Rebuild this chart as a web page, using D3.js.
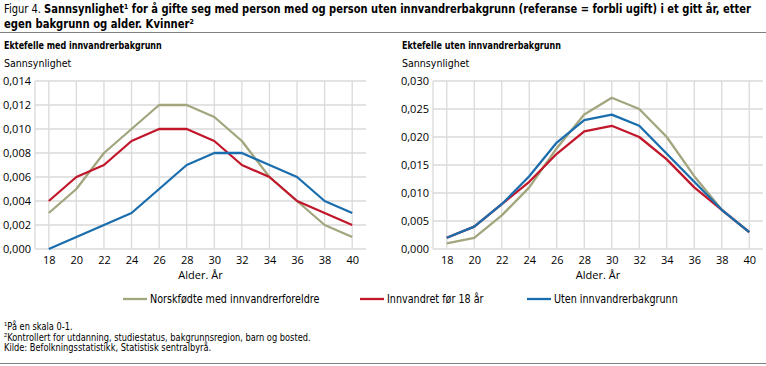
<!DOCTYPE html>
<html>
<head>
<meta charset="utf-8">
<script src="https://cdn.jsdelivr.net/npm/d3@7"></script>
<style>
  body { margin: 0; background: #fff; }
  svg { display: block; }
  .narrow { font-family: "DejaVu Sans Condensed", "DejaVu Sans", sans-serif; fill: #000; }
  .tick text { font-family: "Open Sans", sans-serif; font-size: 11px; fill: #000; }
</style>
</head>
<body>
<script>
// ages on the x axis
const ages = [18, 20, 22, 24, 26, 28, 30, 32, 34, 36, 38, 40];

// series names, in legend order
const seriesNames = ["Norskfødte med innvandrerforeldre", "Innvandret før 18 år", "Uten innvandrerbakgrunn"];

// left panel: spouse with immigrant background
const medNorskfodte = [0.003, 0.005, 0.008, 0.010, 0.012, 0.012, 0.011, 0.009, 0.006, 0.004, 0.002, 0.001];
const medInnvandret = [0.004, 0.006, 0.007, 0.009, 0.010, 0.010, 0.009, 0.007, 0.006, 0.004, 0.003, 0.002];
const medUten       = [0.000, 0.001, 0.002, 0.003, 0.005, 0.007, 0.008, 0.008, 0.007, 0.006, 0.004, 0.003];

// right panel: spouse without immigrant background
const utenNorskfodte = [0.001, 0.002, 0.006, 0.011, 0.018, 0.024, 0.027, 0.025, 0.020, 0.013, 0.007, 0.003];
const utenInnvandret = [0.002, 0.004, 0.008, 0.012, 0.017, 0.021, 0.022, 0.020, 0.016, 0.011, 0.007, 0.003];
const utenUten       = [0.002, 0.004, 0.008, 0.013, 0.019, 0.023, 0.024, 0.022, 0.017, 0.012, 0.007, 0.003];

// y tick values per panel
const leftTicks = [0, 0.002, 0.004, 0.006, 0.008, 0.010, 0.012, 0.014];
const rightTicks = [0, 0.005, 0.010, 0.015, 0.020, 0.025, 0.030];

const colors = ["#a2a57d", "#c2172b", "#1b6ead"];

// norwegian number format, comma as decimal mark
const no = d3.formatLocale({decimal: ",", thousands: " ", grouping: [3], currency: ["", " kr"]});

const W = 766, H = 366;
const svg = d3.select("body").append("svg").attr("width", W).attr("height", H);

// condensed text: the font is squeezed sideways to look like the narrow original
function narrow(parent, x, y, k, size) {
  return parent.append("text").attr("class", "narrow")
    .attr("transform", `translate(${x},${y}) scale(${k},1)`)
    .style("font-size", size + "px");
}

// squeeze a text so it ends up exactly w pixels wide
function fitWidth(sel, x, y, w) {
  const k = w / sel.node().getComputedTextLength();
  sel.attr("transform", `translate(${x},${y}) scale(${k},1)`);
}

/** One panel of the figure. */
class Panel {
  constructor(opts) {
    this.o = opts;
    this.draw();
  }
  draw() {
    const o = this.o;
    const g = svg.append("g");

    narrow(g, o.left - 31, 49, 0.81, 11).style("font-weight", "bold").text(o.title);
    narrow(g, o.left - 31, 67, 0.96, 11).text("Sannsynlighet");

    // point scale with half a step of padding on each side
    this.x = d3.scalePoint().domain(ages).range([o.left, o.right]).padding(0.5);
    this.y = d3.scaleLinear().domain([0, d3.max(o.ticks)]).range([249, 81]);

    // grid
    g.append("g").selectAll("line").data(ages).join("line")
      .attr("x1", d => this.x(d)).attr("x2", d => this.x(d))
      .attr("y1", 81).attr("y2", 249)
      .attr("stroke", "#dadada").attr("stroke-width", 1.3);
    g.append("g").selectAll("line").data(o.ticks).join("line")
      .attr("x1", o.left).attr("x2", o.right)
      .attr("y1", d => this.y(d)).attr("y2", d => this.y(d))
      .attr("stroke", "#dadada").attr("stroke-width", 1.3);
    g.append("line")
      .attr("x1", o.left).attr("x2", o.left).attr("y1", 81).attr("y2", 249)
      .attr("stroke", "#dadada").attr("stroke-width", 1.3);

    // axes, text only
    const yAxis = d3.axisLeft(this.y).tickValues(o.ticks).tickFormat(no.format(".3f")).tickSize(0).tickPadding(4);
    g.append("g").attr("transform", `translate(${o.left},0)`).call(yAxis)
      .call(s => s.select(".domain").remove());
    const xAxis = d3.axisBottom(this.x).tickSize(0).tickPadding(7);
    g.append("g").attr("transform", "translate(0,249)").call(xAxis)
      .call(s => s.select(".domain").remove());

    g.append("text")
      .attr("x", (this.x(18) + this.x(40)) / 2).attr("y", 279)
      .attr("text-anchor", "middle")
      .style("font-family", "Open Sans, sans-serif").style("font-size", "11px")
      .text("Alder. År");

    // lines
    const line = d3.line().x((d, i) => this.x(ages[i])).y(d => this.y(d));
    g.append("g").selectAll("path").data(o.series).join("path")
      .attr("d", line)
      .attr("fill", "none")
      .attr("stroke", (d, i) => colors[i])
      .attr("stroke-width", 2.3)
      .attr("stroke-linejoin", "round");
  }
}

// title, two lines squeezed to the widths of the original
const t1 = narrow(svg, 4, 13, 1, 13);
t1.append("tspan").text("Figur 4. ");
t1.append("tspan").style("font-weight", "bold")
  .text("Sannsynlighet¹ for å gifte seg med person med og person uten innvandrerbakgrunn (referanse = forbli ugift) i et gitt år, etter");
fitWidth(t1, 4, 13, 748);
const t2 = narrow(svg, 4, 28, 1, 13).style("font-weight", "bold")
  .text("egen bakgrunn og alder. Kvinner²");
fitWidth(t2, 4, 28, 190);

svg.append("line").attr("x1", 0).attr("x2", W).attr("y1", 32.5).attr("y2", 32.5)
  .attr("stroke", "#808080").attr("stroke-width", 1.2);

new Panel({title: "Ektefelle med innvandrerbakgrunn", left: 35, right: 366, ticks: leftTicks,
  series: [medNorskfodte, medInnvandret, medUten]});
new Panel({title: "Ektefelle uten innvandrerbakgrunn", left: 433, right: 763, ticks: rightTicks,
  series: [utenNorskfodte, utenInnvandret, utenUten]});

// legend
const legendX = [123, 360, 527];
seriesNames.forEach((name, i) => {
  svg.append("line")
    .attr("x1", legendX[i]).attr("x2", legendX[i] + 24).attr("y1", 299).attr("y2", 299)
    .attr("stroke", colors[i]).attr("stroke-width", 2.3);
  narrow(svg, legendX[i] + 27, 303, 0.89, 12).text(name);
});

// footnotes
const notes = ["¹På en skala 0-1.",
  "²Kontrollert for utdanning, studiestatus, bakgrunnsregion, barn og bosted.",
  "Kilde: Befolkningsstatistikk, Statistisk sentralbyrå."];
notes.forEach((n, i) => narrow(svg, 4, 330 + i * 10.5, 0.92, 10).text(n));

svg.append("line").attr("x1", 0).attr("x2", W).attr("y1", 363.5).attr("y2", 363.5)
  .attr("stroke", "#808080").attr("stroke-width", 1.2);
</script>
</body>
</html>
